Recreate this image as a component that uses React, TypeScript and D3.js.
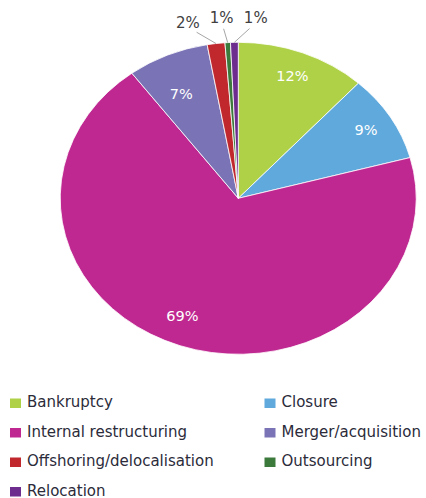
import React from "react";
import * as d3 from "d3";

const categories = [
  "Bankruptcy",
  "Closure",
  "Internal restructuring",
  "Merger/acquisition",
  "Offshoring/delocalisation",
  "Outsourcing",
  "Relocation",
];
const values = [11.8, 9.0, 69.0, 7.4, 1.6, 0.5, 0.7];
const colors = ["#afd147", "#5fa9dc", "#c02891", "#7a74b6", "#c0282e", "#3c7a3c", "#6c2d8e"];

const W = 426;
const H = 498;
const cx = 238.3;
const cy = 198.3;
const rx = 178;
const ry = 156;
const FONT = "'DejaVu Sans', sans-serif";

export default function App() {
  const total = d3.sum(values);
  const pie = d3.pie<number>().sort(null).value((d) => d);
  const arcs = pie(values);
  const arc = d3.arc<d3.PieArcDatum<number>>().innerRadius(0).outerRadius(1);

  const pct = (v: number) => `${Math.round((v / total) * 100)}%`;
  const pt = (angle: number, r: number) => [cx + rx * r * Math.sin(angle), cy - ry * r * Math.cos(angle)];

  const inside = arcs.filter((a) => a.data / total >= 0.05);
  const outside = arcs.filter((a) => a.data / total < 0.05);

  const mids = outside.map((a) => {
    let m = (a.startAngle + a.endAngle) / 2;
    if (m > Math.PI) m -= 2 * Math.PI;
    return m;
  });
  const gap = (9.5 * Math.PI) / 180;
  const meanMid = d3.mean(mids) ?? 0;
  const labelAngles = mids.map((_, i) => meanMid + (i - (mids.length - 1) / 2) * gap - 0.012);

  const legendX = [10, 264.5];
  const legendY0 = 407;
  const legendDy = 29.5;

  return (
    <svg width={W} height={H} style={{ position: "absolute", left: 0, top: 0, background: "#fff" }}>
      <g transform={`translate(${cx},${cy}) scale(${rx},${ry})`}>
        {arcs.map((a, i) => (
          <path
            key={i}
            d={arc(a) ?? ""}
            fill={colors[i]}
            stroke="#ffffff"
            strokeWidth={0.8}
            vectorEffect="non-scaling-stroke"
          />
        ))}
      </g>
      {inside.map((a, i) => {
        const share = a.data / total;
        const m = (a.startAngle + a.endAngle) / 2 + (share > 0.5 ? 0.06 : share < 0.08 ? -0.04 : 0);
        const r = share > 0.5 ? 0.82 : share < 0.08 ? 0.74 : 0.84;
        const [x, y] = pt(m, r);
        return (
          <text
            key={i}
            x={x}
            y={y}
            textAnchor="middle"
            dominantBaseline="central"
            fill="#ffffff"
            fontFamily={FONT}
            fontSize={14.5}
          >
            {pct(a.data)}
          </text>
        );
      })}
      {outside.map((a, i) => {
        const m = mids[i];
        const la = labelAngles[i];
        const [x1, y1] = pt(m, 1.0);
        const [x2, y2] = pt(m + (la - m) * 0.75, 1.09);
        const [tx, ty] = pt(la, 1.16);
        return (
          <g key={i}>
            <line x1={x1} y1={y1} x2={x2} y2={y2} stroke="#a6a6a6" strokeWidth={1} />
            <text
              x={tx}
              y={ty}
              textAnchor="middle"
              dominantBaseline="central"
              fill="#404040"
              fontFamily={FONT}
              fontSize={15}
            >
              {pct(a.data)}
            </text>
          </g>
        );
      })}
      {categories.map((c, i) => {
        const col = i % 2;
        const row = Math.floor(i / 2);
        const x = legendX[col];
        const y = legendY0 + row * legendDy;
        return (
          <g key={c}>
            <rect x={x} y={y - 8.5} width={11} height={9.5} fill={colors[i]} />
            <text x={x + 17} y={y} fill="#2b2b3a" fontFamily={FONT} fontSize={15}>
              {c}
            </text>
          </g>
        );
      })}
    </svg>
  );
}
